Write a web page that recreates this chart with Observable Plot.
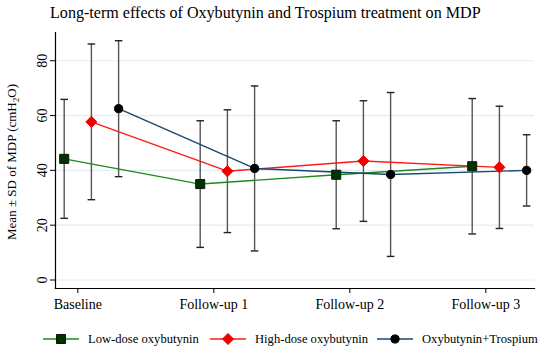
<!DOCTYPE html>
<html>
<head>
<meta charset="utf-8">
<script src="https://cdn.jsdelivr.net/npm/d3@7"></script>
<script src="https://cdn.jsdelivr.net/npm/@observablehq/plot@0.6"></script>
<style>
  html, body { margin: 0; padding: 0; background: #fff; }
  #wrap { position: relative; width: 550px; height: 355px; font-family: "Liberation Serif", "Times New Roman", serif; overflow: hidden; }
  #title { position: absolute; left: 50px; top: 4px; font-size: 16.1px; color: #000; white-space: nowrap; }
  #chart { position: absolute; left: 0; top: 0; }
  #legend { position: absolute; left: 0; top: 331px; width: 550px; height: 18px; font-size: 12.6px; }
  .item { position: absolute; top: 0; display: flex; align-items: center; height: 16px; white-space: nowrap; }
  .item svg { margin-right: 9px; }
</style>
</head>
<body>
<div id="wrap">
  <div id="chart"></div>
  <div id="title">Long-term effects of Oxybutynin and Trospium treatment on MDP</div>
  <div id="legend"></div>
</div>
<script>
// ---- data ----
const timepoints = ["Baseline", "Follow-up 1", "Follow-up 2", "Follow-up 3"];
const groups = ["Low-dose oxybutynin", "High-dose oxybutynin", "Oxybutynin+Trospium"];
const lowMean = [44.2, 35.0, 38.4, 41.5];
const lowSD = [21.7, 23.1, 19.7, 24.7];
const highMean = [57.7, 39.7, 43.4, 41.1];
const highSD = [28.4, 22.4, 22.0, 22.3];
const comboMean = [62.5, 40.7, 38.5, 40.0];
const comboSD = [24.8, 30.1, 29.9, 13.0];
const yTicks = [0, 20, 40, 60, 80];

// ---- styling ----
const offsets = [-0.1, 0.1, 0.3];
const lineColors = ["#1e8a1e", "#ff1a1a", "#1a476f"];
const markFill = ["#003300", "#ee0000", "#000000"];
const markStroke = ["#001a00", "#ee0000", "#000000"];
const symbols = ["square", "diamond2", "circle"];
const radii = [5.1, 5.0, 4.1];

const means = [lowMean, highMean, comboMean];
const sds = [lowSD, highSD, comboSD];
const rows = [];
groups.forEach((g, gi) => {
  timepoints.forEach((t, ti) => {
    rows.push({group: g, gi, ti, x: ti + offsets[gi], mean: means[gi][ti], lo: means[gi][ti] - sds[gi][ti], hi: means[gi][ti] + sds[gi][ti]});
  });
});

const capSymbol = {draw(ctx) { ctx.moveTo(-3.8, 0); ctx.lineTo(3.8, 0); }};

const marks = [
  Plot.gridY(yTicks, {stroke: "#e4eeef", strokeOpacity: 1, strokeWidth: 1.2}),
  Plot.ruleX(rows, {x: "x", y1: "lo", y2: "hi", stroke: "#555", strokeWidth: 1.4}),
  Plot.dot(rows, {x: "x", y: "hi", symbol: capSymbol, stroke: "#222", strokeWidth: 1.4, r: 4}),
  Plot.dot(rows, {x: "x", y: "lo", symbol: capSymbol, stroke: "#222", strokeWidth: 1.4, r: 4}),
];
groups.forEach((g, gi) => {
  const d = rows.filter(r => r.gi === gi);
  marks.push(Plot.line(d, {x: "x", y: "mean", stroke: lineColors[gi], strokeWidth: 1.4}));
});
groups.forEach((g, gi) => {
  const d = rows.filter(r => r.gi === gi);
  marks.push(Plot.dot(d, {x: "x", y: "mean", symbol: symbols[gi], r: radii[gi], fill: markFill[gi], stroke: markStroke[gi], strokeWidth: 1}));
});
marks.push(
  Plot.frame({anchor: "left", stroke: "#000", strokeWidth: 1.2}),
  Plot.frame({anchor: "bottom", stroke: "#000", strokeWidth: 1.2}),
  Plot.axisX({ticks: [0, 1, 2, 3], tickFormat: i => timepoints[i], tickSize: 5, tickPadding: 6, fontSize: 14, label: null, stroke: "#000"}),
  Plot.axisY({ticks: yTicks, tickSize: 5, tickPadding: 4, tickRotate: -90, fontSize: 14, label: null, stroke: "#000"})
);

const plot = Plot.plot({
  width: 550,
  height: 355,
  marginTop: 32,
  marginBottom: 67,
  marginLeft: 55,
  marginRight: 16,
  style: {fontFamily: '"Liberation Serif", "Times New Roman", serif', fontSize: "14px", color: "#000", background: "transparent"},
  x: {type: "linear", domain: [-0.164, 3.358]},
  y: {domain: [-3.1, 90.3]},
  marks
});
document.getElementById("chart").appendChild(plot);

// y-axis title with subscript
const svg = d3.select(plot);
const yl = svg.append("text")
  .attr("transform", "translate(16,162) rotate(-90)")
  .attr("text-anchor", "middle")
  .attr("font-size", 13)
  .attr("fill", "#000");
yl.append("tspan").text("Mean \u00b1 SD of MDP (cmH");
yl.append("tspan").attr("font-size", 9).attr("dy", 3).text("2");
yl.append("tspan").attr("dy", -3).text("O)");

// legend
const legend = document.getElementById("legend");
const legendLeft = [43, 210, 377];
groups.forEach((g, gi) => {
  const item = document.createElement("div");
  item.className = "item";
  item.style.left = legendLeft[gi] + "px";
  const s = d3.create("svg").attr("width", 36).attr("height", 16);
  s.append("line").attr("x1", 0).attr("x2", 36).attr("y1", 8).attr("y2", 8).attr("stroke", lineColors[gi]).attr("stroke-width", 1.6);
  s.append("path")
    .attr("transform", "translate(18,8)")
    .attr("d", d3.symbol(gi === 0 ? d3.symbolSquare : gi === 1 ? d3.symbolDiamond2 : d3.symbolCircle, Math.PI * radii[gi] * radii[gi])())
    .attr("fill", markFill[gi]).attr("stroke", markStroke[gi]);
  item.appendChild(s.node());
  const span = document.createElement("span");
  span.textContent = g;
  item.appendChild(span);
  legend.appendChild(item);
});
</script>
</body>
</html>
